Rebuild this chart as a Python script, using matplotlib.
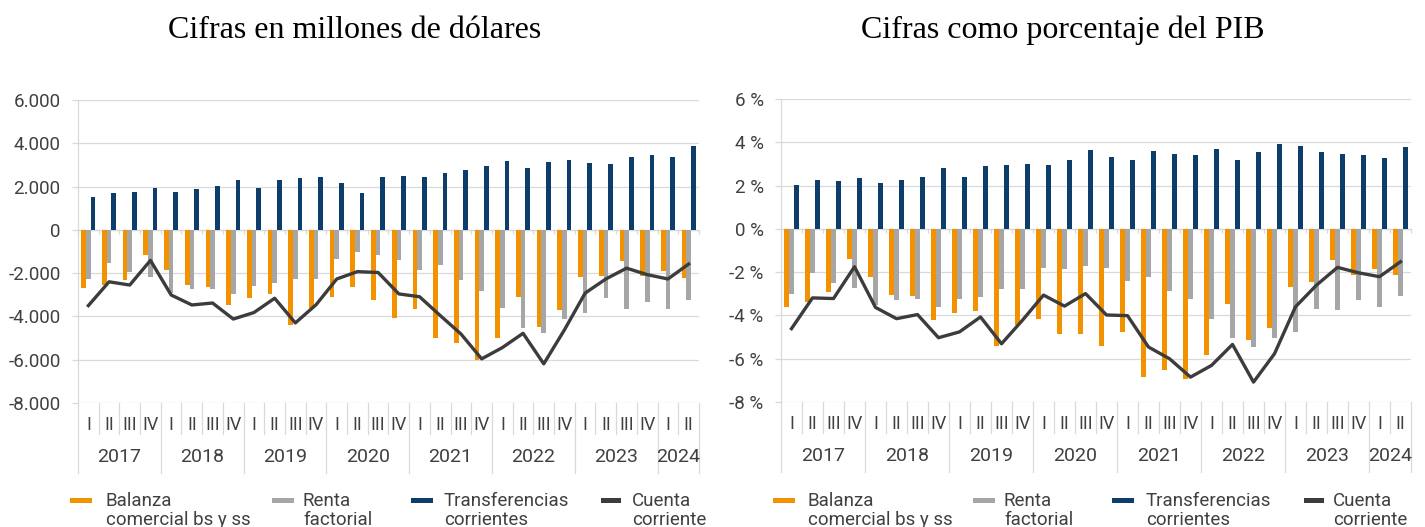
import matplotlib
matplotlib.use("Agg")
import matplotlib.pyplot as plt
import numpy as np
from matplotlib.patches import Rectangle

plt.rcParams["font.family"] = ["Roboto", "DejaVu Sans"]

# ---- data -------------------------------------------------------------
quarters = ["I", "II", "III", "IV"] * 7 + ["I", "II"]
years = ["2017", "2018", "2019", "2020", "2021", "2022", "2023", "2024"]
quarters_per_year = [4, 4, 4, 4, 4, 4, 4, 2]

# Millones de dólares
balanza_usd = [-2700, -2550, -2300, -1140, -1840, -2530, -2640, -3460, -3130, -2980,
               -4390, -3600, -3090, -2630, -3230, -4070, -3660, -4990, -5240, -6010,
               -5010, -3090, -4490, -3720, -2200, -2120, -1440, -2150, -1900, -2210]
renta_usd = [-2270, -1520, -1970, -2200, -2920, -2750, -2750, -2950, -2580, -2470,
             -2290, -2290, -1350, -1010, -1150, -1370, -1860, -1630, -2320, -2840,
             -3590, -4520, -4780, -4120, -3860, -3160, -3660, -3330, -3670, -3230]
transf_usd = [1540, 1705, 1770, 1920, 1750, 1875, 2045, 2320, 1950, 2290,
              2415, 2445, 2170, 1720, 2430, 2490, 2460, 2630, 2780, 2935,
              3195, 2840, 3120, 3210, 3105, 3040, 3380, 3440, 3350, 3890]
cuenta_usd = [-3500, -2400, -2550, -1410, -3010, -3470, -3380, -4120, -3820, -3160,
              -4300, -3460, -2270, -1930, -1970, -2960, -3090, -3960, -4810, -5960,
              -5440, -4780, -6190, -4620, -2920, -2270, -1770, -2070, -2270, -1580]

# Porcentaje del PIB
balanza_pct = [-3.60, -3.36, -2.92, -1.41, -2.21, -3.05, -3.11, -4.22, -3.88, -3.79,
               -5.40, -4.43, -4.18, -4.84, -4.87, -5.43, -4.78, -6.85, -6.54, -6.93,
               -5.82, -3.45, -5.12, -4.58, -2.68, -2.46, -1.45, -2.13, -1.86, -2.15]
renta_pct = [-3.02, -2.03, -2.49, -2.72, -3.52, -3.29, -3.22, -3.60, -3.25, -3.17,
             -2.80, -2.78, -1.83, -1.86, -1.73, -1.79, -2.40, -2.24, -2.88, -3.26,
             -4.16, -5.03, -5.46, -5.04, -4.75, -3.71, -3.73, -3.31, -3.60, -3.12]
transf_pct = [2.03, 2.24, 2.23, 2.37, 2.10, 2.26, 2.38, 2.82, 2.40, 2.89,
              2.95, 2.99, 2.94, 3.16, 3.65, 3.31, 3.19, 3.60, 3.46, 3.39,
              3.68, 3.17, 3.56, 3.93, 3.84, 3.57, 3.45, 3.43, 3.28, 3.76]
cuenta_pct = [-4.61, -3.19, -3.22, -1.75, -3.63, -4.15, -3.96, -5.03, -4.76, -4.07,
              -5.31, -4.22, -3.06, -3.57, -2.99, -3.98, -4.01, -5.46, -6.00, -6.85,
              -6.31, -5.34, -7.08, -5.77, -3.60, -2.60, -1.78, -2.03, -2.21, -1.52]

series_names = ["Balanza\ncomercial bs y ss", "Renta\nfactorial",
                "Transferencias\ncorrientes", "Cuenta\ncorriente"]

# ---- style ------------------------------------------------------------
ORANGE = "#F39200"
GREY = "#A6A6A6"
NAVY = "#0D3D6B"
LINE = "#3C3C3C"
GRID = "#D9D9D9"
TEXT = "#404040"

W, H = 1425, 527
fig = plt.figure(figsize=(W / 100, H / 100), dpi=100)


def add_axes_px(x0, x1, ytop, ybot):
    return fig.add_axes([x0 / W, 1 - ybot / H, (x1 - x0) / W, (ybot - ytop) / H])


def fmt_usd(v):
    return f"{int(v):,}".replace(",", ".")


def fmt_pct(v):
    return f"{int(v)} %"


def draw_panel(ax, bal, ren, tra, cta, ymin, ymax, step, fmt, ax_h_px):
    n = len(quarters)
    x = np.arange(n)
    w = 0.225
    ax.bar(x - w, bal, w, color=ORANGE, zorder=2)
    ax.bar(x, ren, w, color=GREY, zorder=2)
    ax.bar(x + w, tra, w, color=NAVY, zorder=2)
    ax.plot(x, cta, color=LINE, lw=2.4, zorder=3)

    ax.set_xlim(-0.5, n - 0.5)
    ax.set_ylim(ymin, ymax)
    ticks = np.arange(ymin, ymax + step / 2, step)
    ax.set_yticks(ticks)
    ax.set_yticklabels([fmt(t) for t in ticks])
    ax.grid(axis="y", color=GRID, lw=0.9, zorder=0)
    ax.set_axisbelow(True)

    for s in ("top", "right"):
        ax.spines[s].set_visible(False)
    ax.spines["left"].set_color(GRID)
    ax.spines["left"].set_linewidth(0.9)
    ax.spines["bottom"].set_position(("data", 0))
    ax.spines["bottom"].set_color(GRID)
    ax.spines["bottom"].set_linewidth(0.9)
    ax.spines["bottom"].set_zorder(1)

    ax.set_xticks([])
    ax.set_xticks(np.arange(-0.5, n), minor=True)
    ax.tick_params(axis="x", which="minor", length=3, width=0.9, color=GRID,
                   direction="out", labelbottom=False)
    ax.tick_params(axis="y", length=4.5, width=0.9, color=GRID, pad=8,
                   labelsize=13.5, labelcolor=TEXT)

    # category axis below the plot: quarter and year labels with separators
    tr = ax.get_xaxis_transform()
    q_depth = -31 / ax_h_px
    y_depth = -70 / ax_h_px
    q_lab = -22 / ax_h_px
    y_lab = -54 / ax_h_px
    year_edges = np.concatenate([[0], np.cumsum(quarters_per_year)]) - 0.5
    for b in np.arange(-0.5, n):
        depth = y_depth if np.any(np.isclose(year_edges, b)) else q_depth
        ax.plot([b, b], [0, depth], transform=tr, color=GRID, lw=0.9,
                clip_on=False, zorder=1)
    for i, q in enumerate(quarters):
        ax.text(i, q_lab, q, transform=tr, ha="center", va="center",
                fontsize=13, color=TEXT)
    for j, yr in enumerate(years):
        c = (year_edges[j] + year_edges[j + 1]) / 2
        ax.text(c, y_lab, yr, transform=tr, ha="center", va="center",
                fontsize=14, color=TEXT)


axL = add_axes_px(78, 699, 100, 403)
draw_panel(axL, balanza_usd, renta_usd, transf_usd, cuenta_usd,
           -8000, 6000, 2000, fmt_usd, 303)

axR = add_axes_px(781, 1411, 99, 402)
draw_panel(axR, balanza_pct, renta_pct, transf_pct, cuenta_pct,
           -8, 6, 2, fmt_pct, 303)

# titles
fig.text(355 / W, 1 - 30 / H, "Cifras en millones de dólares", ha="center",
         va="center", fontsize=23, family="Liberation Serif", color="black")
fig.text(1063 / W, 1 - 30 / H, "Cifras como porcentaje del PIB", ha="center",
         va="center", fontsize=23, family="Liberation Serif", color="black")

# legends drawn in pixel space
lax = fig.add_axes([0, 0, 1, 1])
lax.set_xlim(0, W)
lax.set_ylim(H, 0)
lax.axis("off")
colors = [ORANGE, GREY, NAVY, LINE]
legend_layouts = [
    ([70, 272, 411, 601], [106, 303, 444, 632]),
    ([773, 973, 1112, 1304], [808, 1004, 1146, 1333]),
]
for patch_x, text_x in legend_layouts:
    for px, tx, col, name in zip(patch_x, text_x, colors, series_names):
        pw = 22 if col != LINE else 20
        lax.add_patch(Rectangle((px, 498), pw, 4.5, color=col, lw=0))
        l1, l2 = name.split("\n")
        lax.text(tx, 506, l1, ha="left", va="baseline", fontsize=13.5, color=TEXT)
        lax.text(tx, 525, l2, ha="left", va="baseline", fontsize=13.5, color=TEXT)

fig.savefig("out.png", dpi=100, facecolor="white")
